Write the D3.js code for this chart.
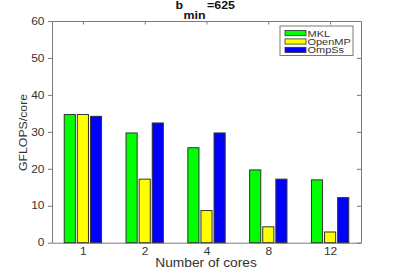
<!DOCTYPE html>
<html>
<head>
<meta charset="utf-8">
<script src="https://cdn.jsdelivr.net/npm/d3@7"></script>
<style>
  body { margin: 0; background: #fff; }
  svg { font-family: "Liberation Sans", Arial, sans-serif; }
</style>
</head>
<body>
<div id="chart"></div>
<script>
// data
const cores = ['1', '2', '4', '8', '12'];
const seriesNames = ['MKL', 'OpenMP', 'OmpSs'];
const seriesColors = ['#00ff00', '#ffff00', '#0000ff'];
const mkl = [34.7, 29.7, 25.7, 19.7, 17.0];
const openmp = [34.7, 17.2, 8.7, 4.3, 2.9];
const ompss = [34.2, 32.4, 29.7, 17.2, 12.2];
const yTicks = [0, 10, 20, 30, 40, 50, 60];

const W = 399, H = 273;
const margin = { left: 52, right: 38, top: 21, bottom: 30.3 };
const w = W - margin.left - margin.right,
      h = H - margin.top - margin.bottom;

const svg = d3.select('#chart').append('svg')
    .attr('width', W).attr('height', H);

const g = svg.append('g')
    .attr('transform', 'translate(' + margin.left + ',' + margin.top + ')');

const x = d3.scaleLinear().domain([0.5, 5.5]).range([0, w]);
const y = d3.scaleLinear().domain([0, 60]).range([h, 0]);

const axisColor = '#7a7a7a', textColor = '#333';
const pos = cores.map((c, i) => i + 1);

// text in the reference is a bit wider than it is tall, so stretch it a little
const stretched = (parent, tx, ty, sx, size) => parent.append('text')
    .attr('transform', 'translate(' + tx + ',' + ty + ') scale(' + sx + ',1)')
    .attr('fill', textColor)
    .style('font-size', size + 'px');

// axes first so the bars sit over the inward bottom ticks
const xAxisB = g.append('g').attr('transform', 'translate(0,' + h + ')')
    .call(d3.axisBottom(x).tickValues(pos).tickFormat((d, i) => cores[i])
        .tickSizeInner(-4).tickSizeOuter(0));
const xAxisT = g.append('g')
    .call(d3.axisTop(x).tickValues(pos).tickFormat('')
        .tickSizeInner(-3.5).tickSizeOuter(0));
const yAxisL = g.append('g')
    .call(d3.axisLeft(y).tickValues(yTicks)
        .tickSizeInner(4).tickSizeOuter(0));
const yAxisR = g.append('g').attr('transform', 'translate(' + w + ',0)')
    .call(d3.axisRight(y).tickValues(yTicks).tickFormat('')
        .tickSizeInner(-4).tickSizeOuter(0));

[xAxisB, xAxisT, yAxisL, yAxisR].forEach(a => {
    a.select('.domain').attr('stroke', axisColor);
    a.selectAll('.tick line').attr('stroke', axisColor);
    a.selectAll('.tick text').attr('fill', textColor)
        .style('font-size', '10px').style('font-family', '"Liberation Sans", Arial, sans-serif');
});
xAxisB.selectAll('.tick text')
    .attr('y', 0).attr('dy', 0)
    .attr('transform', 'translate(0,12) scale(1.2,1)');
yAxisL.selectAll('.tick text')
    .attr('x', 0)
    .attr('transform', 'translate(-7.5,0) scale(1.2,1)');

// bars
const values = [mkl, openmp, ompss];
const barW = 0.18, step = 0.212;

values.forEach((vals, s) => {
    g.selectAll('.bar-' + s)
        .data(vals)
        .enter().append('rect')
        .attr('class', 'bar-' + s)
        .attr('x', (d, i) => x(i + 1 + (s - 1) * step - barW / 2))
        .attr('width', x(barW) - x(0))
        .attr('y', d => y(d))
        .attr('height', d => y(0) - y(d))
        .attr('fill', seriesColors[s])
        .attr('stroke', '#333')
        .attr('stroke-width', 1);
});

// axis labels
stretched(svg, 206, 266.5, 1.1, 12.5)
    .attr('text-anchor', 'middle')
    .text('Number of cores');

svg.append('text')
    .attr('transform', 'translate(27,' + 132.5 + ') rotate(-90) scale(1.07,1)')
    .attr('text-anchor', 'middle').attr('fill', textColor)
    .style('font-size', '11.5px')
    .text('GFLOPS/core');

// title: b_min=625, pieces placed one after another
const titleG = svg.append('g').attr('fill', '#111').style('font-weight', 'bold');
const tB = stretched(titleG, 175.5, 9.3, 1.13, 11).attr('fill', '#111').text('b');
const tSub = stretched(titleG, 183.5, 19, 1.13, 11).attr('fill', '#111').text('min');
const tEq = stretched(titleG, 207, 9.3, 1.13, 11).attr('fill', '#111').text('=625');

// legend
const legend = svg.append('g').attr('transform', 'translate(280,26)');
legend.append('rect')
    .attr('width', 73).attr('height', 29.5)
    .attr('fill', '#fff').attr('stroke', axisColor);
seriesNames.forEach((name, i) => {
    const row = legend.append('g').attr('transform', 'translate(5,' + (4.5 + i * 8.4) + ')');
    row.append('rect')
        .attr('width', 21).attr('height', 5.2)
        .attr('fill', seriesColors[i]).attr('stroke', '#333').attr('stroke-width', 0.8);
    stretched(row, 22.5, 6, 1.22, 9)
        .text(name);
});
</script>
</body>
</html>
